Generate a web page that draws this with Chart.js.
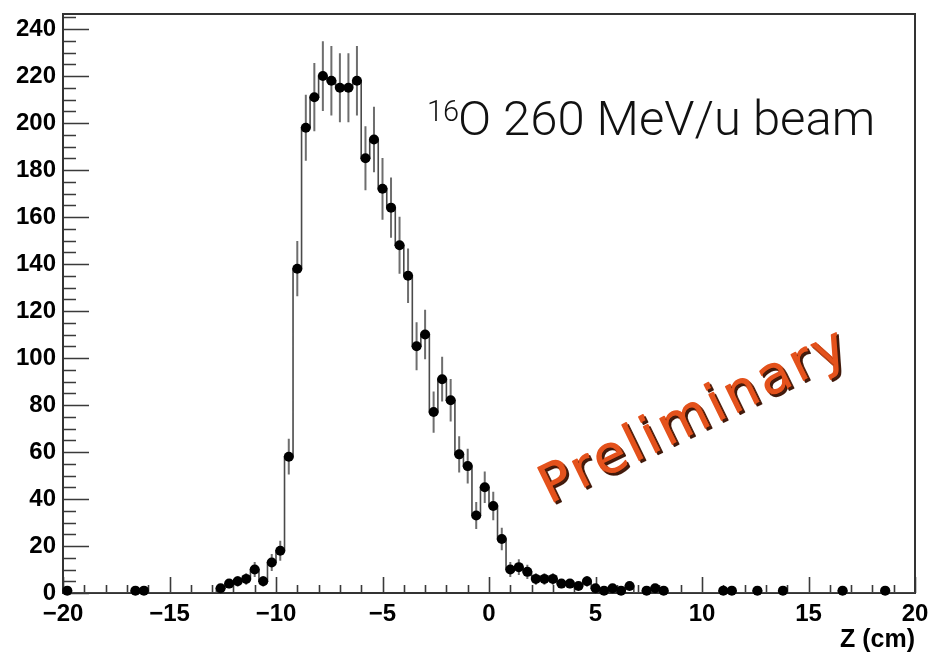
<!DOCTYPE html>
<html>
<head>
<meta charset="utf-8">
<script src="https://cdn.jsdelivr.net/npm/chart.js@4.4.1/dist/chart.umd.min.js"></script>
<style>
  html, body { margin: 0; padding: 0; background: #fff; }
  #wrap { width: 930px; height: 652px; }
</style>
</head>
<body>
<div id="wrap"><canvas id="c" width="930" height="652"></canvas></div>
<script>
// Reconstructed Z positions: 100 bins of 0.4 cm over [-20, 20)
const zLow = -20;
const zHigh = 20;
const binWidth = 0.4;
const counts = [
  1, 0, 0, 0, 0, 0, 0, 0, 1, 1,              // -19.8 .. -16.2
  0, 0, 0, 0, 0, 0, 0, 0, 2, 4,              // -15.8 .. -12.2
  5, 6, 10, 5, 13, 18, 58, 138, 198, 211,    // -11.8 .. -8.2
  220, 218, 215, 215, 218, 185, 193, 172, 164, 148, // -7.8 .. -4.2
  135, 105, 110, 77, 91, 82, 59, 54, 33, 45, // -3.8 .. -0.2
  37, 23, 10, 11, 9, 6, 6, 6, 4, 4,          //  0.2 .. 3.8
  3, 5, 2, 1, 2, 1, 3, 0, 1, 2,              //  4.2 .. 7.8
  1, 0, 0, 0, 0, 0, 0, 1, 1, 0,              //  8.2 .. 11.8
  0, 1, 0, 0, 1, 0, 0, 0, 0, 0,              // 12.2 .. 15.8
  0, 1, 0, 0, 0, 0, 1, 0, 0, 0               // 16.2 .. 19.8
];
const yMax = 246.4;
const xTickValues = [-20, -15, -10, -5, 0, 5, 10, 15, 20];
const yTickValues = [0, 20, 40, 60, 80, 100, 120, 140, 160, 180, 200, 220, 240];
const xAxisTitle = 'Z (cm)';
const beamIsotope = '16';
const beamText = 'O 260 MeV/u beam';
const stampText = 'Preliminary';

// Histogram outline as steps across each bin
const stepPts = [];
counts.forEach((c, i) => {
  const lo = zLow + i * binWidth;
  stepPts.push({ x: lo, y: c }, { x: lo + binWidth, y: c });
});
// Markers at bin centres for filled bins
const markerPts = counts
  .map((c, i) => ({ x: zLow + (i + 0.5) * binWidth, y: c }))
  .filter(p => p.y > 0);
// Poisson error bars, one segment per filled bin
const errPts = [];
markerPts.forEach(p => {
  const e = Math.sqrt(p.y);
  errPts.push({ x: p.x, y: p.y - e }, { x: p.x, y: p.y + e }, { x: p.x, y: null });
});

const fontFamily = '"Liberation Sans", Arial, Helvetica, sans-serif';
const labelFont = { family: fontFamily, size: 24, weight: 'bold' };

// Frame and inward-pointing major/minor ticks
const framePlugin = {
  id: 'frameTicks',
  beforeDatasetsDraw(chart) {
    const { ctx, chartArea: a, scales: { x, y } } = chart;
    ctx.save();
    ctx.strokeStyle = '#3a3a3a';
    ctx.lineWidth = 1.6;
    ctx.beginPath();
    for (let v = 0; v <= yMax; v += 5) {
      const py = Math.round(y.getPixelForValue(v)) + 0.5;
      const len = v % 20 === 0 ? 26 : 13;
      ctx.moveTo(a.left, py);
      ctx.lineTo(a.left + len, py);
    }
    for (let v = zLow; v <= zHigh; v += 1) {
      const px = Math.round(x.getPixelForValue(v)) + 0.5;
      const len = v % 5 === 0 ? 16 : 8;
      ctx.moveTo(px, a.bottom);
      ctx.lineTo(px, a.bottom - len);
    }
    ctx.stroke();
    ctx.lineWidth = 2;
    ctx.strokeStyle = '#333';
    ctx.strokeRect(a.left, a.top, a.right - a.left, a.bottom - a.top);
    ctx.restore();
  },
  afterDraw(chart) {
    const { ctx } = chart;
    ctx.save();
    ctx.fillStyle = '#111';
    ctx.font = '300 49px Roboto, "Liberation Sans", sans-serif';
    ctx.fillText(beamText, 458, 135);
    ctx.font = '300 29px Roboto, "Liberation Sans", sans-serif';
    ctx.fillText(beamIsotope, 427, 121);
    ctx.restore();

    // Rotated stamp with a dark drop shadow
    ctx.save();
    ctx.translate(550, 504);
    ctx.rotate(-26 * Math.PI / 180);
    ctx.font = '52px "DejaVu Sans", sans-serif';
    ctx.letterSpacing = '4px';
    ctx.fillStyle = '#e4521c';
    ctx.strokeStyle = '#e4521c';
    ctx.lineWidth = 1.6;
    ctx.lineJoin = 'round';
    ctx.shadowColor = 'rgba(60,20,5,0.95)';
    ctx.shadowOffsetX = 2;
    ctx.shadowOffsetY = 2;
    ctx.strokeText(stampText, 0, 0);
    ctx.fillText(stampText, 0, 0);
    ctx.restore();
  }
};

new Chart(document.getElementById('c'), {
  type: 'scatter',
  data: {
    datasets: [
      {
        data: markerPts,
        pointRadius: 5,
        pointBackgroundColor: '#000',
        pointBorderColor: '#000',
        pointBorderWidth: 0,
        showLine: false,
        clip: false
      },
      {
        data: errPts,
        showLine: true,
        spanGaps: false,
        pointRadius: 0,
        borderColor: '#6e6e6e',
        borderWidth: 2
      },
      {
        data: stepPts,
        showLine: true,
        pointRadius: 0,
        borderColor: '#4a4a4a',
        borderWidth: 1.6
      }
    ]
  },
  options: {
    responsive: false,
    animation: false,
    events: [],
    layout: { padding: { top: 14, right: 15, left: 0, bottom: 0 } },
    plugins: { legend: { display: false }, tooltip: { enabled: false } },
    scales: {
      x: {
        type: 'linear',
        min: zLow,
        max: zHigh,
        afterBuildTicks: s => { s.ticks = xTickValues.map(v => ({ value: v })); },
        afterFit: s => { s.height = 59; s.paddingLeft = 0; s.paddingRight = 0; },
        grid: { display: false, drawTicks: false },
        border: { display: false },
        ticks: {
          autoSkip: false,
          maxRotation: 0,
          padding: 7,
          color: '#000',
          font: labelFont,
          callback: v => String(v).replace('-', '\u2212')
        },
        title: {
          display: true,
          text: xAxisTitle,
          align: 'end',
          color: '#000',
          font: { family: fontFamily, size: 25, weight: 'bold' },
          padding: { top: 0, bottom: -3 }
        }
      },
      y: {
        type: 'linear',
        min: 0,
        max: yMax,
        afterBuildTicks: s => { s.ticks = yTickValues.map(v => ({ value: v })); },
        afterFit: s => { s.width = 63; s.paddingTop = 0; s.paddingBottom = 0; },
        grid: { display: false, drawTicks: false },
        border: { display: false },
        ticks: {
          autoSkip: false,
          padding: 7,
          color: '#000',
          font: labelFont
        }
      }
    }
  },
  plugins: [framePlugin]
});
</script>
</body>
</html>
